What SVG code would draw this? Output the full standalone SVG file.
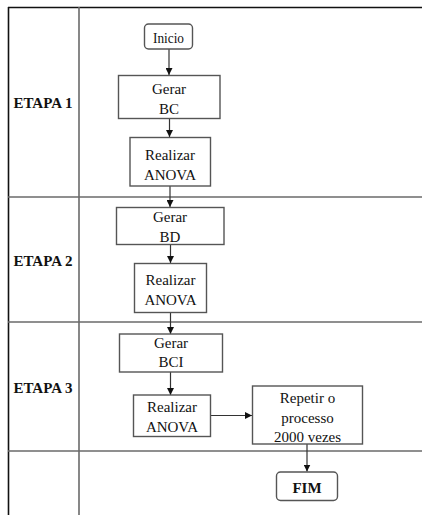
<svg xmlns="http://www.w3.org/2000/svg" width="422" height="515" viewBox="0 0 422 515">
<style>
.box{fill:#fff;stroke:#555;stroke-width:1.4}
.t{font-family:"Liberation Serif","Times New Roman",serif;font-size:15px;fill:#111;text-anchor:middle}
.b{font-weight:bold}
.grid{stroke:#6a6a6a;stroke-width:1.6;fill:none}
.c{stroke:#333;stroke-width:1.2;fill:none;marker-end:url(#ah)}
</style>
<defs>
<marker id="ah" viewBox="0 0 10 10" refX="10" refY="5" markerWidth="7" markerHeight="7" markerUnits="userSpaceOnUse" orient="auto">
<path d="M0,0 L10,5 L0,10 z" fill="#111"/>
</marker>
</defs>
<g id="frame">
<line x1="8" y1="7.5" x2="422" y2="7.5" stroke="#111" stroke-width="1.6"/>
<line x1="8.5" y1="7" x2="8.5" y2="515" stroke="#111" stroke-width="1.6"/>
<line class="grid" x1="79" y1="7" x2="79" y2="515"/>
<line class="grid" x1="8" y1="197" x2="422" y2="197"/>
<line class="grid" x1="8" y1="322" x2="422" y2="322"/>
<line class="grid" x1="8" y1="451" x2="422" y2="451"/>
<text class="t b" x="43" y="108">ETAPA 1</text>
<text class="t b" x="43" y="266">ETAPA 2</text>
<text class="t b" x="43" y="393">ETAPA 3</text>
</g>
<g id="connectors">
<line class="c" x1="169" y1="49" x2="169" y2="75"/>
<line class="c" x1="169.5" y1="119" x2="169.5" y2="137"/>
<line class="c" x1="170" y1="186" x2="170" y2="207"/>
<line class="c" x1="170.5" y1="245" x2="170.5" y2="263"/>
<line class="c" x1="170.5" y1="313" x2="170.5" y2="334"/>
<line class="c" x1="170.5" y1="372" x2="170.5" y2="395"/>
<line class="c" x1="211" y1="415.5" x2="252" y2="415.5"/>
<line class="c" x1="307" y1="444" x2="307" y2="471.5"/>
</g>
<g id="inicio">
<rect class="box" x="144.5" y="24" width="48" height="25" rx="4"/>
<text class="t" x="168.5" y="42.5" font-size="14" textLength="31" lengthAdjust="spacingAndGlyphs">Inicio</text>
</g>
<g id="gerar-bc">
<rect class="box" x="118.5" y="75.5" width="101.5" height="43"/>
<text class="t" x="169" y="94">Gerar</text>
<text class="t" x="169" y="113.5">BC</text>
</g>
<g id="anova-1">
<rect class="box" x="130" y="137.5" width="80.5" height="48.5"/>
<text class="t" x="170" y="160">Realizar</text>
<text class="t" x="170" y="180">ANOVA</text>
</g>
<g id="gerar-bd">
<rect class="box" x="116.5" y="207.5" width="107.5" height="37"/>
<text class="t" x="170" y="221.5">Gerar</text>
<text class="t" x="170" y="241.5">BD</text>
</g>
<g id="anova-2">
<rect class="box" x="134.5" y="263.5" width="72" height="49"/>
<text class="t" x="170.5" y="284.5">Realizar</text>
<text class="t" x="170.5" y="304.5">ANOVA</text>
</g>
<g id="gerar-bci">
<rect class="box" x="119.5" y="334" width="103" height="38"/>
<text class="t" x="171" y="347.5">Gerar</text>
<text class="t" x="171" y="366.5">BCI</text>
</g>
<g id="anova-3">
<rect class="box" x="133.5" y="395" width="77" height="41.5"/>
<text class="t" x="172" y="411.5">Realizar</text>
<text class="t" x="172" y="431.5">ANOVA</text>
</g>
<g id="repetir">
<rect class="box" x="252.5" y="386" width="110" height="58"/>
<text class="t" x="307.5" y="403" font-size="14.5">Repetir o</text>
<text class="t" x="307.5" y="422.5" font-size="14.5">processo</text>
<text class="t" x="307.5" y="441.5" font-size="14.5">2000 vezes</text>
</g>
<g id="fim">
<rect class="box" x="276.5" y="472" width="61" height="28.5" rx="4"/>
<text class="t b" x="307" y="493">FIM</text>
</g>
</svg>
